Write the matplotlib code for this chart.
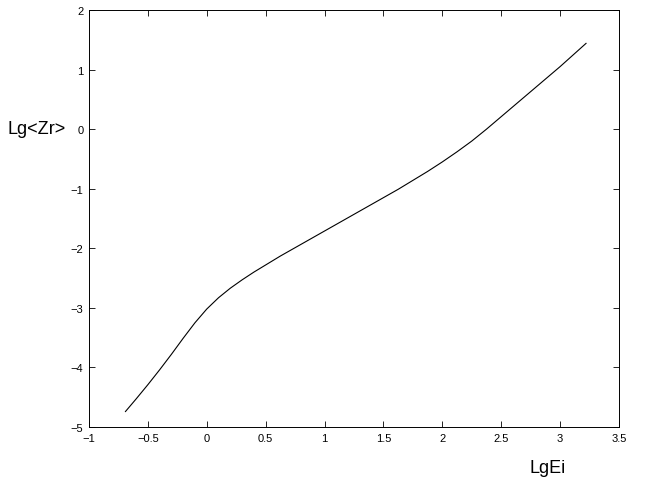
import numpy as np
import matplotlib
matplotlib.use('Agg')
import matplotlib.pyplot as plt

# values
lg_ei = [-0.69, -0.6, -0.5, -0.4, -0.3, -0.2, -0.1, 0.0, 0.1, 0.2,
         0.3, 0.4, 0.5, 0.625, 0.75, 1.0, 1.25, 1.5, 1.625, 1.75,
         1.875, 2.0, 2.125, 2.25, 2.375, 2.5, 2.75, 3.0, 3.22]
lg_zr = [-4.74, -4.53, -4.29, -4.04, -3.78, -3.51, -3.25, -3.02, -2.83, -2.67,
         -2.53, -2.40, -2.28, -2.13, -1.99, -1.71, -1.43, -1.15, -1.01, -0.86,
         -0.71, -0.55, -0.38, -0.20, 0.0, 0.21, 0.63, 1.05, 1.44]

x_ticks = [-1, -0.5, 0, 0.5, 1, 1.5, 2, 2.5, 3, 3.5]
x_tick_labels = ['\u22121', '\u22120.5', '0', '0.5', '1', '1.5', '2', '2.5', '3', '3.5']
y_ticks = [-5, -4, -3, -2, -1, 0, 1, 2]
y_tick_labels = ['\u22125', '\u22124', '\u22123', '\u22122', '\u22121', '0', '1', '2']

plt.rcParams['font.family'] = ['Liberation Sans', 'DejaVu Sans']

fig = plt.figure(figsize=(6.54, 4.85), dpi=100)
ax = fig.add_axes([0.136, 0.1175, 0.8105, 0.8598])

ax.plot(lg_ei, lg_zr, color='black', linewidth=0.8)

ax.set_xlim(-1, 3.5)
ax.set_ylim(-5, 2)
ax.set_xticks(x_ticks)
ax.set_xticklabels(x_tick_labels)
ax.set_yticks(y_ticks)
ax.set_yticklabels(y_tick_labels)
ax.tick_params(direction='in', top=True, right=True, length=4, width=0.6,
               labelsize=8, pad=4)
for s in ax.spines.values():
    s.set_linewidth(0.7)

fig.text(0.012, 0.734, 'Lg<Zr>', fontsize=13, ha='left', va='center')
fig.text(0.81, 0.035, 'LgEi', fontsize=13, ha='left', va='center')

fig.savefig('out.png', dpi=100)
